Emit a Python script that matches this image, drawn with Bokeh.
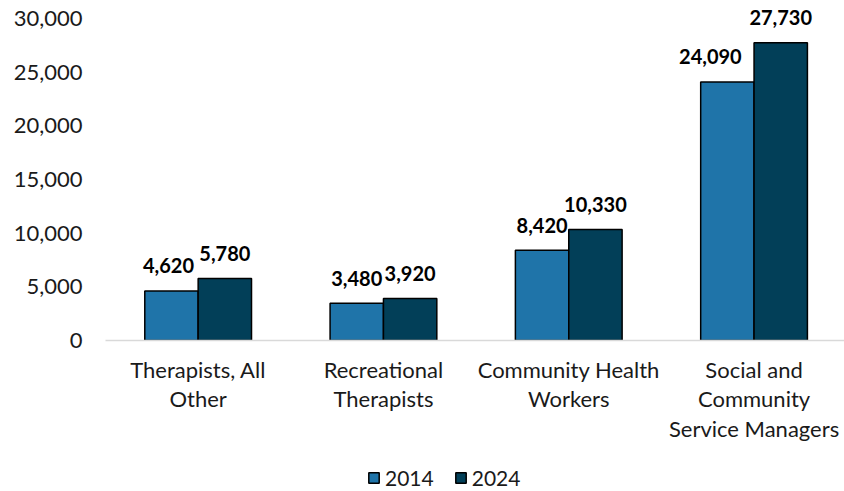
from bokeh.plotting import figure
from bokeh.layouts import column
from bokeh.models import (Range1d, FixedTicker, NumeralTickFormatter, ColumnDataSource,
                          Legend, LegendItem)
from bokeh.core.properties import value
from bokeh.embed import file_html
from bokeh.resources import INLINE

categories = ["Therapists, All Other", "Recreational Therapists",
              "Community Health Workers", "Social and Community Service Managers"]
category_labels = ["Therapists, All\nOther", "Recreational\nTherapists",
                   "Community Health\nWorkers", "Social and\nCommunity\nService Managers"]
years = ["2014", "2024"]
values_2014 = [4620, 3480, 8420, 24090]
values_2024 = [5780, 3920, 10330, 27730]
y_ticks = [0, 5000, 10000, 15000, 20000, 25000, 30000]

COLORS = {"2014": "#1F74A9", "2024": "#023F58"}
FONT = "Lato"

W, H = 844, 460
LEG_H = 31
LEFT, BOTTOM = 105, 120
cat_px = 185.3
frame_w = W - LEFT
frame_h = H - BOTTOM
y_top_px = 322.0  # pixels from frame bottom to 30,000

p = figure(width=W, height=H, output_backend="svg", toolbar_location=None,
           x_range=Range1d(0, frame_w / cat_px),
           y_range=Range1d(0, 30000 * frame_h / y_top_px),
           min_border_left=LEFT, min_border_bottom=BOTTOM,
           min_border_top=0, min_border_right=0)
p.outline_line_color = None
p.grid.visible = False
p.background_fill_color = "white"
p.border_fill_color = "white"

bar_w = 0.288
centers = [i + 0.5 for i in range(len(categories))]
src = ColumnDataSource(dict(
    c=centers,
    x14=[c - bar_w / 2 for c in centers],
    x24=[c + bar_w / 2 for c in centers],
    v14=values_2014, v24=values_2024,
    t14=[f"{v:,}" for v in values_2014],
    t24=[f"{v:,}" for v in values_2024],
    dx14=[-3, 0, 0, -17],
))

bar_style = {"2014": dict(fill_color=COLORS["2014"], line_color="black", line_width=1.5),
             "2024": dict(fill_color=COLORS["2024"], line_color="black", line_width=1.5)}

p.vbar(x="x14", top="v14", bottom=0, width=bar_w, source=src, **bar_style["2014"])
p.vbar(x="x24", top="v24", bottom=0, width=bar_w, source=src, **bar_style["2024"])

for xcol, ycol, tcol, dx in (("x14", "v14", "t14", "dx14"), ("x24", "v24", "t24", 0)):
    p.text(x=xcol, y=ycol, text=tcol, source=src, x_offset=dx, y_offset=-25,
           text_align="center", text_baseline="alphabetic",
           text_font=value(FONT), text_font_style="bold",
           text_font_size="20px", text_color="black")

# axes
p.yaxis.ticker = FixedTicker(ticks=y_ticks)
p.yaxis.formatter = NumeralTickFormatter(format="0,0")
p.yaxis.axis_line_color = None
p.yaxis.major_tick_line_color = None
p.yaxis.minor_tick_line_color = None
p.yaxis.major_tick_out = 0
p.yaxis.major_tick_in = 0
p.yaxis.major_label_standoff = 23
p.yaxis.major_label_text_font = FONT
p.yaxis.major_label_text_font_size = "22px"
p.yaxis.major_label_text_color = "#1a1a1a"

p.xaxis.ticker = FixedTicker(ticks=centers)
p.xaxis.major_label_overrides = {c: lab for c, lab in zip(centers, category_labels)}
p.xaxis.axis_line_color = "#d9d9d9"
p.xaxis.axis_line_width = 1.5
p.xaxis.major_tick_line_color = None
p.xaxis.minor_tick_line_color = None
p.xaxis.major_tick_out = 0
p.xaxis.major_tick_in = 0
p.xaxis.major_label_standoff = 15
p.xaxis.major_label_text_font = FONT
p.xaxis.major_label_text_font_size = "22px"
p.xaxis.major_label_text_line_height = 1.1
p.xaxis.major_label_text_color = "#1a1a1a"

# legend strip below the chart (its frame is aligned with the chart's frame)
pl = figure(width=W, height=LEG_H, output_backend="svg", toolbar_location=None,
            x_range=p.x_range, y_range=Range1d(0, 1),
            x_axis_type=None, y_axis_type=None,
            min_border=0, outline_line_color=None)
pl.grid.visible = False
lr14 = pl.vbar(x="x14", top="v14", bottom=0, width=bar_w, source=src, **bar_style["2014"])
lr24 = pl.vbar(x="x24", top="v24", bottom=0, width=bar_w, source=src, **bar_style["2024"])
lr14.visible = False
lr24.visible = False
legend = Legend(items=[LegendItem(label=years[0], renderers=[lr14]),
                       LegendItem(label=years[1], renderers=[lr24])],
                orientation="horizontal", location=(262, 1),
                border_line_color=None, background_fill_alpha=0,
                inactive_fill_alpha=0,
                padding=0, margin=0, spacing=20,
                glyph_width=13, glyph_height=13, label_standoff=5,
                label_text_font=FONT, label_text_font_size="21px",
                label_text_color="#1a1a1a")
pl.add_layout(legend)

layout = column(p, pl, spacing=0)
open("out.html", "w").write(file_html(layout, INLINE))
